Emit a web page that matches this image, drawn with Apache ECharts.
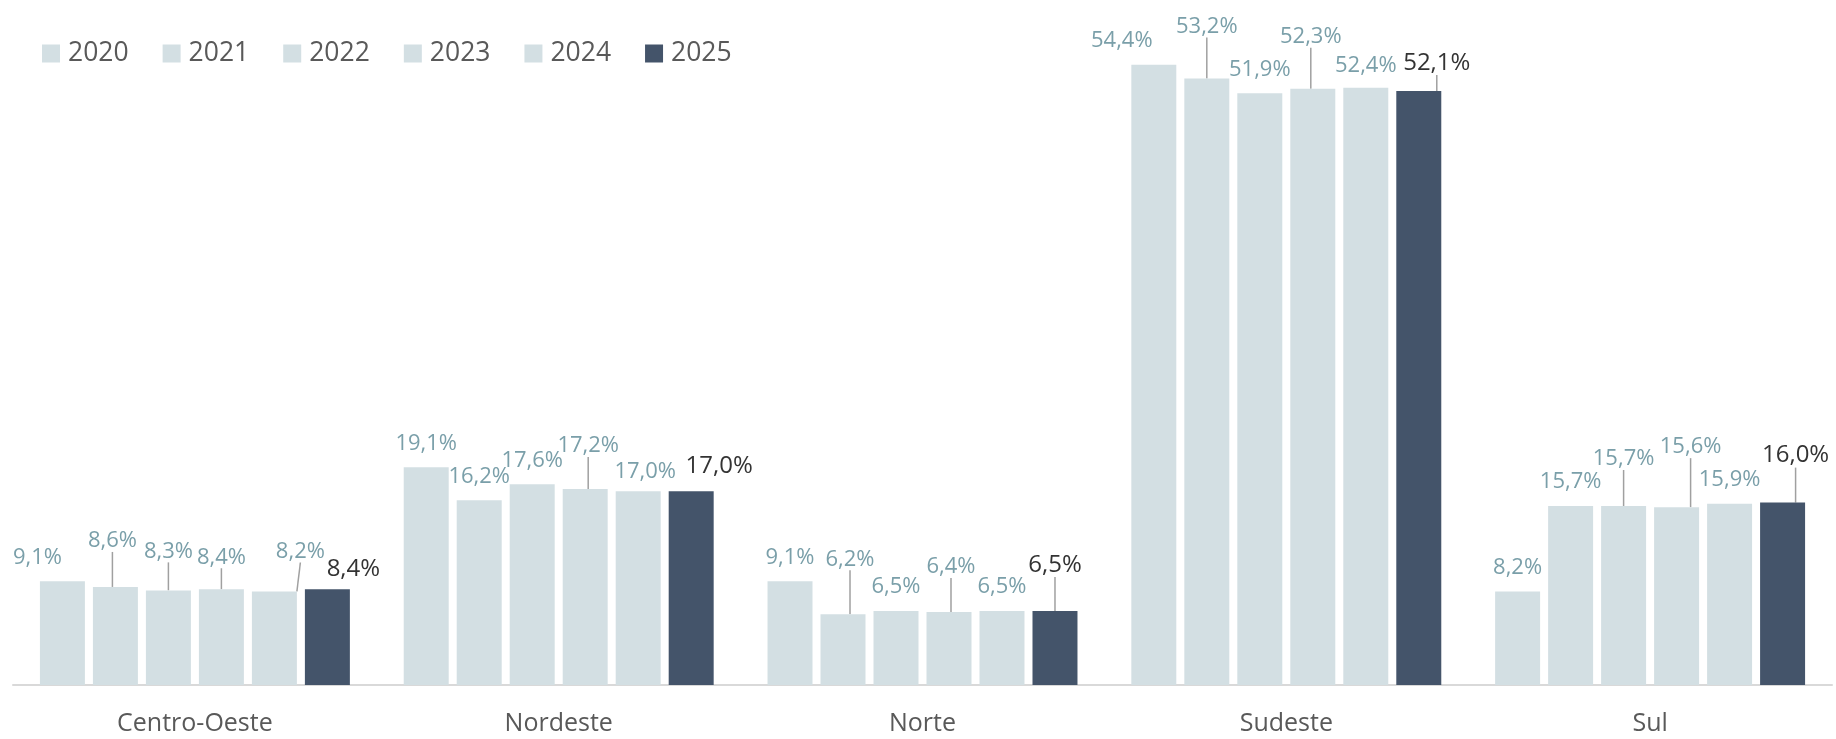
<!DOCTYPE html>
<html>
<head>
<meta charset="utf-8">
<title>Participação por região</title>
<script src="https://cdn.jsdelivr.net/npm/echarts@6/dist/echarts.min.js"></script>
<style>
  html, body { margin: 0; padding: 0; background: #ffffff; }
  #chart { width: 1836px; height: 739px; }
</style>
</head>
<body>
<div id="chart"></div>
<script>
// Regions on the category axis
const regions = ['Centro-Oeste', 'Nordeste', 'Norte', 'Sudeste', 'Sul'];

// Years shown as series
const years = ['2020', '2021', '2022', '2023', '2024', '2025'];

// Share of each region (%), one array per year
const share2020 = [9.1, 19.1, 9.1, 54.4, 8.2];
const share2021 = [8.6, 16.2, 6.2, 53.2, 15.7];
const share2022 = [8.3, 17.6, 6.5, 51.9, 15.7];
const share2023 = [8.4, 17.2, 6.4, 52.3, 15.6];
const share2024 = [8.2, 17.0, 6.5, 52.4, 15.9];
const share2025 = [8.4, 17.0, 6.5, 52.1, 16.0];
const shares = [share2020, share2021, share2022, share2023, share2024, share2025];

// Label placement per region and year: [dx, dy, show leader line]
const labelShift = [
  [[-25, 0, 0], [-3, -22, 1], [0, -15, 1], [0, -8, 1], [26, -16, 1], [26, 5, 0]],
  [[0, 0, 0], [0, 0, 0], [0, 0, 0], [3, -19, 1], [7, 5, 0], [28, 0, 0]],
  [[0, 0, 0], [7, -31, 1], [0, 0, 0], [2, -21, 1], [0, 0, 0], [0, -21, 1]],
  [[-32, 0, 0], [0, -28, 1], [0, 0, 0], [-2, -28, 1], [0, 2, 0], [18, -3, 1]],
  [[0, 0, 0], [0, 0, 0], [0, -23, 1], [14, -36, 1], [0, 0, 0], [13, -22, 1]]
];

const FONT = '"Open Sans", "Noto Sans", sans-serif';
const LIGHT = '#d3dfe3';
const DARK = '#44546a';

const fmt = v => v.toFixed(1).replace('.', ',') + '%';

const series = years.map((year, yi) => {
  const isLast = yi === years.length - 1;
  return {
    name: year,
    type: 'bar',
    barGap: '17.8%',
    barCategoryGap: '14.8%',
    itemStyle: { color: isLast ? DARK : LIGHT },
    label: {
      show: true,
      position: 'top',
      distance: 13,
      fontFamily: FONT,
      fontSize: isLast ? 24 : 22,
      color: isLast ? '#333333' : '#7a9fa9',
      formatter: p => fmt(p.value)
    },
    labelLine: {
      show: false,
      length2: 0,
      lineStyle: { color: '#a0a0a0', width: 1.5 }
    },
    labelLayout: p => {
      const s = labelShift[p.dataIndex][p.seriesIndex];
      return { dx: s[0], dy: s[1] };
    },
    emphasis: { disabled: true },
    data: shares[yi].map((v, ri) => ({
      value: v,
      labelLine: { show: !!labelShift[ri][yi][2] }
    }))
  };
});

const chart = echarts.init(document.getElementById('chart'), null, { renderer: 'canvas' });
chart.setOption({
  animation: false,
  backgroundColor: '#ffffff',
  legend: {
    left: 37,
    top: 35,
    icon: 'rect',
    itemWidth: 18,
    itemHeight: 18,
    itemGap: 34,
    textStyle: { fontFamily: FONT, fontSize: 26.5, color: '#595959', padding: [0, 0, 0, 3] },
    data: years
  },
  grid: { left: 13, right: 4, top: 1, bottom: 54, containLabel: false },
  xAxis: {
    type: 'category',
    data: regions,
    axisLine: { show: true, lineStyle: { color: '#d9d9d9', width: 2 } },
    axisTick: { show: false },
    axisLabel: { fontFamily: FONT, fontSize: 25, color: '#595959', margin: 26 }
  },
  yAxis: {
    type: 'value',
    min: 0,
    max: 60,
    show: false,
    splitLine: { show: false }
  },
  series: series
});
</script>
</body>
</html>
